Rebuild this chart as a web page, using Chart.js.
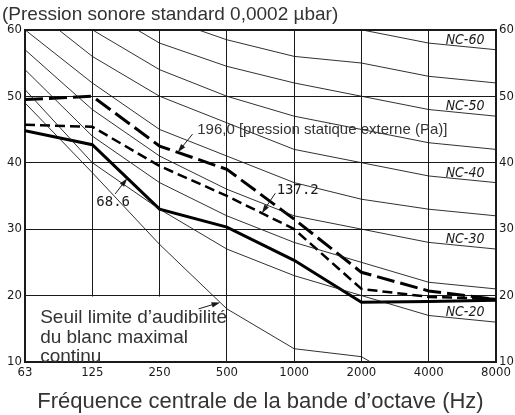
<!DOCTYPE html>
<html>
<head>
<meta charset="utf-8">
<script src="https://cdn.jsdelivr.net/npm/chart.js@4.4.1/dist/chart.umd.min.js"></script>
<style>
  html, body { margin: 0; padding: 0; background: #fff; }
  canvas { display: block; }
</style>
</head>
<body>
<canvas id="nc-chart" width="515" height="415"></canvas>
<script>
// Octave bands (x axis) and level range (y axis)
const bands = ['63', '125', '250', '500', '1000', '2000', '4000', '8000'];
const levelTicks = [10, 20, 30, 40, 50, 60];

// NC reference curves (dB)
const nc60 = [77, 71, 67, 63, 61, 60, 58, 57];
const nc55 = [74, 67, 62, 58.5, 56, 55, 53, 52];
const nc50 = [71, 64, 58, 54.5, 52, 50, 48, 47];
const nc45 = [67, 60, 54, 50, 47, 45, 43, 42];
const nc40 = [64, 56, 50, 46, 42, 40, 38, 37];
const nc35 = [60, 52, 45, 41, 37, 34.5, 33, 32];
const nc30 = [57, 48, 41, 36, 32, 30, 28, 27];
const nc25 = [54, 44, 37, 32, 28, 25, 22, 21];
const nc20 = [51, 40, 33, 27, 23, 20, 17, 16];
// threshold of audibility of continuous white noise
const threshold = [49, 38.5, 27.7, 18, 12, 10.8, 5, 2];

// Measured levels for each external static pressure (Pa)
const p686 = [44.8, 42.7, 33, 30.3, 25.3, 19, 19.1, 19.3];
const p1372 = [45.7, 45.4, 39.5, 35, 30, 21, 19.8, 19.5];
const p1960 = [49.5, 50, 42.5, 39, 31.5, 23.5, 20.7, 19.4];

const ncLabels = ['NC-60', 'NC-50', 'NC-40', 'NC-30', 'NC-20'];
const ncLabelCurves = [nc60, nc50, nc40, nc30, nc20];

const INK = '#1a1a1a';
const TEXT = '#333';
const SANS = '"Liberation Sans", Arial, sans-serif';
const NARROW = '"DejaVu Sans Condensed", "Liberation Sans Narrow", "Liberation Sans", sans-serif';

const toPoints = arr => arr.map((v, i) => ({ x: i, y: v }));

// linear interpolation of a series at fractional band index
function valueAt(series, idx) {
  const i = Math.min(Math.floor(idx), series.length - 2);
  const t = idx - i;
  return series[i] + (series[i + 1] - series[i]) * t;
}

function drawArrow(ctx, x1, y1, x2, y2) {
  const ang = Math.atan2(y2 - y1, x2 - x1);
  ctx.beginPath();
  ctx.moveTo(x1, y1);
  ctx.lineTo(x2 - 5 * Math.cos(ang), y2 - 5 * Math.sin(ang));
  ctx.stroke();
  ctx.beginPath();
  ctx.moveTo(x2, y2);
  ctx.lineTo(x2 - 9 * Math.cos(ang - 0.3), y2 - 9 * Math.sin(ang - 0.3));
  ctx.lineTo(x2 - 9 * Math.cos(ang + 0.3), y2 - 9 * Math.sin(ang + 0.3));
  ctx.closePath();
  ctx.fill();
}

const notesPlugin = {
  id: 'notes',
  beforeDatasetsDraw(chart) {
    // blank area behind the threshold caption
    const { ctx, chartArea, scales: { x, y } } = chart;
    ctx.save();
    ctx.fillStyle = '#fff';
    const top = y.getPixelForValue(20) + 1;
    ctx.fillRect(chartArea.left + 1, top, x.getPixelForValue(2.9) - chartArea.left - 1, chartArea.bottom - top - 1);
    ctx.restore();
  },
  afterDatasetsDraw(chart) {
    const { ctx, scales: { x, y } } = chart;
    const px = v => x.getPixelForValue(v);
    const py = v => y.getPixelForValue(v);
    ctx.save();

    // NC curve labels
    ctx.font = 'italic 14px ' + NARROW;
    ctx.fillStyle = INK;
    ctx.textAlign = 'center';
    ctx.textBaseline = 'middle';
    ncLabels.forEach((label, k) => {
      ctx.fillText(label, px(6.54), py(valueAt(ncLabelCurves[k], 6.54) + 1.0));
    });

    // pressure labels
    ctx.textAlign = 'left';
    ctx.fillStyle = TEXT;
    ctx.font = '15px ' + SANS;
    ctx.fillText('196,0 [pression statique externe (Pa)]', px(2.56), py(45));
    ctx.fillStyle = INK;
    ctx.font = '14px "DejaVu Sans Mono", monospace';
    ctx.fillText('137.2', px(3.74), py(35.9));
    ctx.fillText('68.6', px(1.06), py(34.1));

    // threshold caption
    ctx.fillStyle = TEXT;
    ctx.font = '19px ' + SANS;
    ['Seuil limite d\u2019audibilit\u00e9', 'du blanc maximal', 'continu'].forEach((line, k) => {
      ctx.fillText(line, px(0.225), py(16.6) + k * 19.5);
    });

    // leader arrows
    ctx.strokeStyle = INK;
    ctx.fillStyle = INK;
    ctx.lineWidth = 1;
    drawArrow(ctx, px(2.49), py(44.3), px(2.27), py(valueAt(p1960, 2.27)));
    drawArrow(ctx, px(3.72), py(35.4), px(3.52), py(valueAt(p1372, 3.52)));
    drawArrow(ctx, px(1.34), py(35.3), px(1.52), py(valueAt(p686, 1.52)));
    drawArrow(ctx, px(2.58), py(18.0), px(2.9), py(valueAt(threshold, 2.9)));

    ctx.restore();
  }
};

const thin = (data) => ({
  data: toPoints(data),
  borderColor: INK,
  borderWidth: 0.9,
  pointRadius: 0,
  tension: 0,
});

const datasets = [
  thin(nc60), thin(nc55), thin(nc50), thin(nc45), thin(nc40),
  thin(nc35), thin(nc30), thin(nc25), thin(nc20), thin(threshold),
  {
    label: '68.6',
    data: toPoints(p686),
    borderColor: '#000',
    borderWidth: 3,
    pointRadius: 0,
  },
  {
    label: '137.2',
    data: toPoints(p1372),
    borderColor: '#000',
    borderWidth: 2.5,
    borderDash: [10, 5],
    pointRadius: 0,
  },
  {
    label: '196.0',
    data: toPoints(p1960),
    borderColor: '#000',
    borderWidth: 3,
    borderDash: [18, 6],
    pointRadius: 0,
  },
];

const tickFont = { family: NARROW, size: 13 };

new Chart(document.getElementById('nc-chart'), {
  type: 'line',
  data: { datasets },
  options: {
    responsive: false,
    animation: false,
    layout: { padding: { left: 2 } },
    plugins: {
      legend: { display: false },
      tooltip: { enabled: false },
      title: {
        display: true,
        text: '(Pression sonore standard 0,0002 \u00b5bar)',
        align: 'start',
        color: TEXT,
        font: { family: SANS, size: 19, weight: 'normal' },
        padding: { top: 3, bottom: 4 },
      },
    },
    scales: {
      x: {
        type: 'linear',
        min: 0,
        max: bands.length - 1,
        afterFit: s => { s.height = 53; },
        afterBuildTicks: s => { s.ticks = bands.map((b, i) => ({ value: i })); },
        ticks: {
          autoSkip: false,
          maxRotation: 0,
          padding: 3,
          color: INK,
          font: tickFont,
          callback: v => bands[v],
        },
        grid: { color: INK, lineWidth: 1, drawTicks: false },
        border: { color: INK, width: 2 },
        title: {
          display: true,
          text: 'Fr\u00e9quence centrale de la bande d\u2019octave (Hz)',
          color: TEXT,
          font: { family: SANS, size: 22 },
          padding: { top: 0, bottom: 0 },
        },
      },
      y: {
        min: levelTicks[0],
        max: levelTicks[levelTicks.length - 1],
        afterFit: s => { s.width = 23; },
        afterBuildTicks: s => { s.ticks = levelTicks.map(v => ({ value: v })); },
        ticks: { padding: 3, color: INK, font: tickFont },
        grid: {
          color: INK,
          lineWidth: c => (c.tick && c.tick.value === 60 ? 2 : 1),
          drawTicks: false,
        },
        border: { color: INK, width: 2 },
      },
      y2: {
        position: 'right',
        min: levelTicks[0],
        max: levelTicks[levelTicks.length - 1],
        afterFit: s => { s.width = 19; },
        afterBuildTicks: s => { s.ticks = levelTicks.map(v => ({ value: v })); },
        ticks: { padding: 3, color: INK, font: tickFont },
        grid: { display: false, drawTicks: false },
        border: { color: INK, width: 2 },
      },
    },
  },
  plugins: [notesPlugin],
});
</script>
</body>
</html>
